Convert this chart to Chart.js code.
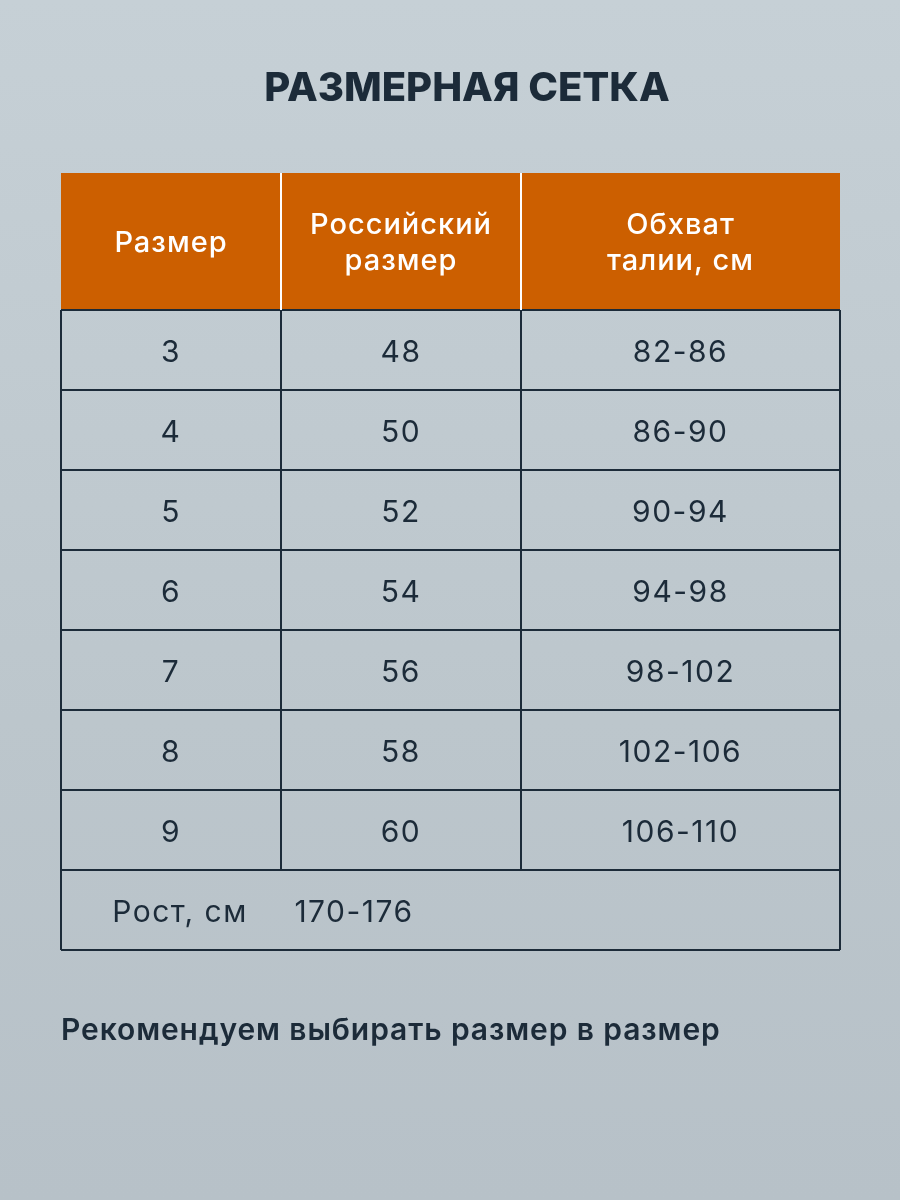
<!DOCTYPE html>
<html><head><meta charset="utf-8">
<script src="https://cdn.jsdelivr.net/npm/chart.js@4"></script>
<style>
html,body{margin:0;padding:0;width:900px;height:1200px;overflow:hidden;background:linear-gradient(180deg,#c6d0d6 0%,#bcc6cc 60%,#b7c1c8 100%);}
#wrap{position:absolute;left:0;top:0;width:900px;height:1200px;}
.t{position:absolute;font-family:Inter,"Noto Sans",sans-serif;color:#1c2b39;}
</style></head><body>
<div id="wrap"><canvas id="c" width="900" height="1200"></canvas></div>
<div class="t" style="left:0;width:934px;top:62px;text-align:center;font-size:40px;font-weight:800;">РАЗМЕРНАЯ СЕТКА</div>
<div class="t" style="left:61px;top:1011px;font-size:30px;font-weight:600;letter-spacing:0.9px;">Рекомендуем выбирать размер в размер</div>
<script>
const headers = [["Размер"],["Российский","размер"],["Обхват","талии, см"]];
const sizes = ["3","4","5","6","7","8","9"];
const ruSizes = ["48","50","52","54","56","58","60"];
const waist = ["82-86","86-90","90-94","94-98","98-102","102-106","106-110"];
const heightLabel = "Рост, см";
const heightValue = "170-176";
const colEdges = [0,220,460,779];
const rowEdges = [0,137,217,297,377,457,537,617,697,777];

const tablePlugin = {
  id:'table',
  afterDraw(chart){
    const ctx = chart.ctx, xs = chart.scales.x, ys = chart.scales.y;
    const X = v=>xs.getPixelForValue(v), Y = v=>ys.getPixelForValue(v);
    ctx.save();
    ctx.fillStyle = '#cc5f00';
    ctx.fillRect(X(0),Y(0),X(779)-X(0),Y(137)-Y(0));
    ctx.textAlign='center'; ctx.textBaseline='middle';
    ctx.letterSpacing='1px';
    ctx.font = '500 29px Inter, "Noto Sans", sans-serif';
    ctx.fillStyle='#ffffff';
    headers.forEach((h,i)=>{
      const cx=(X(colEdges[i])+X(colEdges[i+1]))/2, cy=(Y(0)+Y(137))/2+2;
      h.forEach((line,j)=>ctx.fillText(line,cx,cy+(j-(h.length-1)/2)*36));
    });
    ctx.fillStyle='#1c2b39';
    ctx.font = '400 30px Inter, "Noto Sans", sans-serif';
    ctx.letterSpacing='1.5px';
    const cols=[sizes,ruSizes,waist];
    for(let r=0;r<sizes.length;r++){
      const cy=(Y(rowEdges[r+1])+Y(rowEdges[r+2]))/2+3;
      cols.forEach((c,i)=>ctx.fillText(c[r],(X(colEdges[i])+X(colEdges[i+1]))/2,cy));
    }
    const cyL=(Y(697)+Y(777))/2+3;
    ctx.fillText(heightLabel,X(119),cyL);
    ctx.fillText(heightValue,X(293),cyL);
    ctx.strokeStyle='#1c2b39'; ctx.lineWidth=2;
    rowEdges.forEach((e,i)=>{ if(i===0) return; ctx.beginPath(); ctx.moveTo(X(0),Y(e)); ctx.lineTo(X(779),Y(e)); ctx.stroke(); });
    ctx.beginPath(); ctx.moveTo(X(0),Y(137)); ctx.lineTo(X(0),Y(777)); ctx.moveTo(X(779),Y(137)); ctx.lineTo(X(779),Y(777)); ctx.stroke();
    [220,460].forEach(e=>{
      ctx.beginPath(); ctx.moveTo(X(e),Y(137)); ctx.lineTo(X(e),Y(697)); ctx.stroke();
      ctx.strokeStyle='#ffffff'; ctx.beginPath(); ctx.moveTo(X(e),Y(0)); ctx.lineTo(X(e),Y(137)); ctx.stroke();
      ctx.strokeStyle='#1c2b39';
    });
    ctx.restore();
  }
};
new Chart(document.getElementById('c'),{
  type:'scatter',
  data:{datasets:[{data:[]}]},
  options:{
    responsive:false, animation:false,
    layout:{padding:{left:61,right:60,top:173,bottom:250}},
    plugins:{legend:{display:false},tooltip:{enabled:false}},
    scales:{
      x:{type:'linear',min:0,max:779,display:false},
      y:{type:'linear',min:0,max:777,reverse:true,display:false}
    }
  },
  plugins:[tablePlugin]
});
</script></body></html>
